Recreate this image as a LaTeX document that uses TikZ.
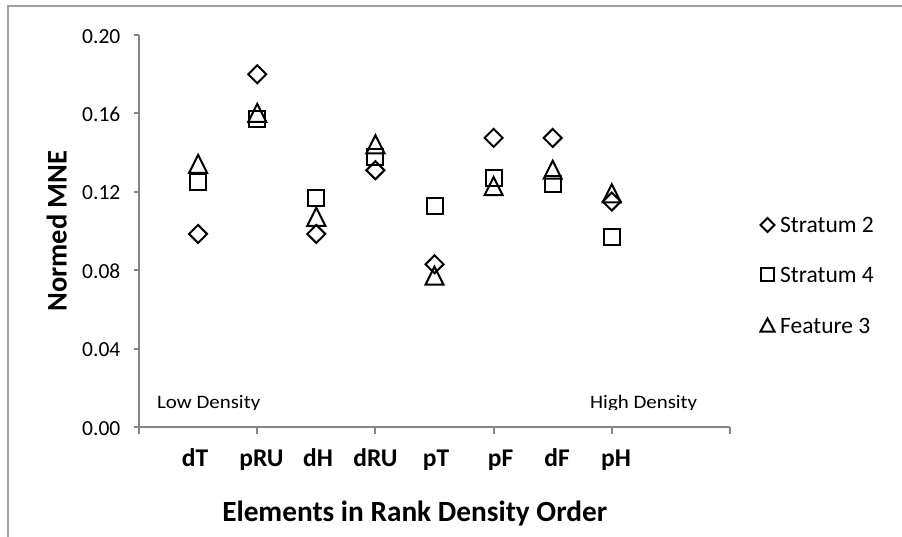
\documentclass[tikz,border=0pt]{standalone}
\usepackage{fontspec}
\setmainfont{Carlito}
\definecolor{framegray}{RGB}{160,160,160}
\definecolor{axisgray}{RGB}{134,134,134}
\newcommand\mdia[2]{\draw[mk] ({#1},{427-1960*#2-9}) -- ++(9,9) -- ++(-9,9) -- ++(-9,-9) -- cycle;}
\newcommand\msq[2]{\draw[mk] ({#1-8},{427-1960*#2-8}) rectangle ({#1+8},{427-1960*#2+8});}
\newcommand\mtri[2]{\draw[mk] ({#1},{427-1960*#2-9.5}) -- ({#1+9},{427-1960*#2+8.5}) -- ({#1-9},{427-1960*#2+8.5}) -- cycle;}
\begin{document}
\begin{tikzpicture}[x=1pt,y=-1pt,
  mk/.style={line width=2pt,black,line join=miter},
  axisline/.style={axisgray,line width=2pt},
  ticklab/.style={anchor=base east,inner sep=0pt,font=\fontsize{21.5}{24}\selectfont},
  catlab/.style={anchor=base,inner sep=0pt,font=\fontsize{25.5}{28}\selectfont\bfseries},
  leglab/.style={anchor=base west,inner sep=0pt,font=\fontsize{23.5}{28}\selectfont},
  denslab/.style={anchor=base west,inner sep=0pt,font=\fontsize{19}{22}\selectfont}]
\useasboundingbox (0,0) rectangle (902,537);
% frame
\draw[framegray,line width=2pt] (8,537) -- (8,6) -- (902,6);
% axes
\draw[axisline] (139,35) -- (139,427) -- (730,427);
\foreach \v/\t in {0.20/0.20,0.16/0.16,0.12/0.12,0.08/0.08,0.04/0.04,0/0.00}{
  \draw[axisline] (134,{427-1960*\v}) -- (139,{427-1960*\v});
  \node[ticklab] (t\t) at (120.5,{427-1960*\v+8}) {\t};
}
\foreach \i in {0,2,4,6,8,10}{
  \draw[axisline] ({139+59.1*\i},427) -- ({139+59.1*\i},434);
}
% category labels
\foreach \x/\c in {195/dT,261.5/pRU,318/dH,375.5/dRU,436/pT,500.5/pF,557/dF,616/pH}{
  \node[catlab] (c\c) at (\x,466.5) {\c};
}
% axis titles
\node[anchor=base,inner sep=0pt,font=\fontsize{29.3}{32}\selectfont\bfseries] (xtitle) at (414.7,521.7) {Elements in Rank Density Order};
\node[anchor=base,inner sep=0pt,rotate=90,font=\fontsize{28.5}{32}\selectfont\bfseries] (ytitle) at (66.5,231) {Normed MNE};
% density labels (clipped at bottom)
\begin{scope}
  \clip (140,380) rectangle (720,409.5);
  \node[denslab] (low) at (157,408.3) {\scalebox{1.1}[1]{Low Density}};
  \node[denslab] (high) at (590,408.3) {\scalebox{1.1}[1]{High Density}};
\end{scope}
% data: Stratum 2 (diamond)
\mdia{198.1}{0.0985}
\mdia{257.2}{0.180}
\mdia{316.3}{0.0985}
\mdia{375.4}{0.131}
\mdia{434.5}{0.083}
\mdia{493.6}{0.1475}
\mdia{552.7}{0.1475}
\mdia{611.8}{0.115}
% Stratum 4 (square)
\msq{198.1}{0.125}
\msq{257.2}{0.157}
\msq{316.3}{0.117}
\msq{375.4}{0.138}
\msq{434.5}{0.113}
\msq{493.6}{0.127}
\msq{552.7}{0.124}
\msq{611.8}{0.097}
% Feature 3 (triangle)
\mtri{198.1}{0.134}
\mtri{257.2}{0.160}
\mtri{316.3}{0.107}
\mtri{375.4}{0.144}
\mtri{434.5}{0.077}
\mtri{493.6}{0.1226}
\mtri{552.7}{0.131}
\mtri{611.8}{0.119}
% legend
\draw[mk] (767.5,218) -- (774.5,225) -- (767.5,232) -- (760.5,225) -- cycle;
\node[leglab] (l1) at (780,233) {Stratum 2};
\draw[mk] (761,268.5) rectangle (774,281.5);
\node[leglab] (l2) at (780,283) {Stratum 4};
\draw[mk] (767.5,318.5) -- (774.5,331.5) -- (760.5,331.5) -- cycle;
\node[leglab] (l3) at (780,333) {Feature 3};
\end{tikzpicture}
\end{document}
